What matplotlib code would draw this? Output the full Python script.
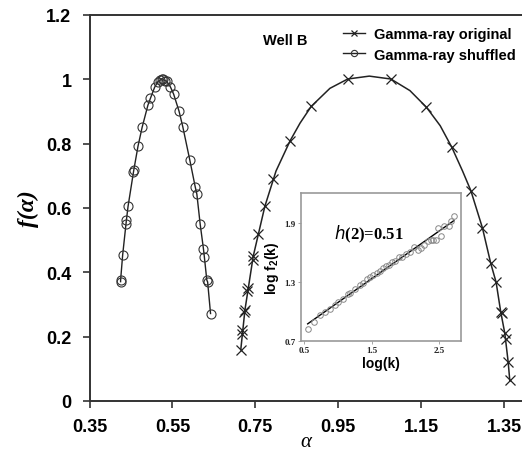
import numpy as np
import matplotlib
matplotlib.use('Agg')
import matplotlib.pyplot as plt

plt.rcParams['font.family'] = ['Liberation Sans', 'DejaVu Sans']
plt.rcParams['mathtext.default'] = 'regular'

# multifractal spectrum, shuffled series (open circles)
shuf_alpha = [0.425, 0.425, 0.430, 0.438, 0.439, 0.443, 0.456, 0.457, 0.467, 0.477,
              0.491, 0.497, 0.507, 0.515, 0.520, 0.525, 0.528, 0.532, 0.536, 0.545,
              0.553, 0.566, 0.575, 0.592, 0.605, 0.609, 0.617, 0.625, 0.627, 0.633,
              0.635, 0.642]
shuf_f = [0.371, 0.375, 0.454, 0.550, 0.562, 0.605, 0.711, 0.719, 0.792, 0.851,
          0.920, 0.941, 0.975, 0.993, 0.997, 1.002, 1.000, 0.996, 0.994, 0.977,
          0.954, 0.901, 0.853, 0.749, 0.666, 0.643, 0.550, 0.472, 0.449, 0.376,
          0.370, 0.272]

# original series, markers
orig_alpha = [0.715, 0.717, 0.718, 0.723, 0.725, 0.731, 0.732, 0.744, 0.745, 0.756,
              0.773, 0.793, 0.834, 0.885, 0.973, 1.077, 1.163, 1.224, 1.270, 1.298,
              1.318, 1.331, 1.342, 1.344, 1.352, 1.355, 1.360, 1.364]
orig_f = [0.160, 0.208, 0.221, 0.276, 0.283, 0.343, 0.350, 0.439, 0.450, 0.519,
          0.605, 0.690, 0.809, 0.916, 1.001, 1.001, 0.913, 0.789, 0.654, 0.538,
          0.428, 0.369, 0.278, 0.273, 0.210, 0.193, 0.122, 0.066]

# original series, fitted curve
curve_alpha = [0.715, 0.725, 0.745, 0.773, 0.800, 0.834, 0.858, 0.885, 0.930, 0.973,
               1.025, 1.077, 1.123, 1.163, 1.196, 1.224, 1.250, 1.270, 1.298, 1.318,
               1.331, 1.342, 1.352, 1.360, 1.364]
curve_f = [0.160, 0.283, 0.450, 0.605, 0.715, 0.809, 0.864, 0.916, 0.972, 1.001,
           1.010, 1.001, 0.965, 0.913, 0.856, 0.789, 0.715, 0.654, 0.538, 0.428,
           0.369, 0.278, 0.210, 0.122, 0.063]

# inset: fluctuation function
log_k = [0.549, 0.647, 0.732, 0.806, 0.880, 0.955, 1.004, 1.078, 1.152, 1.178,
         1.252, 1.326, 1.375, 1.426, 1.475, 1.524, 1.574, 1.623, 1.672, 1.708,
         1.757, 1.797, 1.846, 1.906, 1.955, 2.005, 2.069, 2.133, 2.183, 2.233,
         2.282, 2.332, 2.381, 2.416, 2.451, 2.480, 2.530, 2.579, 2.649, 2.678,
         2.723]
log_f2 = [0.818, 0.894, 0.966, 0.993, 1.026, 1.059, 1.092, 1.119, 1.174, 1.181,
          1.224, 1.267, 1.290, 1.323, 1.347, 1.366, 1.389, 1.412, 1.439, 1.455,
          1.472, 1.498, 1.511, 1.545, 1.554, 1.577, 1.597, 1.653, 1.620, 1.644,
          1.676, 1.709, 1.719, 1.719, 1.719, 1.842, 1.768, 1.861, 1.867, 1.917,
          1.966]
fit_x = [0.549, 2.720]
fit_y = [0.871, 1.920]

main_xticks = [0.35, 0.55, 0.75, 0.95, 1.15, 1.35]
main_yticks = [0, 0.2, 0.4, 0.6, 0.8, 1, 1.2]

fig = plt.figure(figsize=(5.22, 4.52), dpi=100)
ax = fig.add_axes([89.5 / 522, 50 / 452, 432.5 / 522, 386 / 452])

ax.plot(curve_alpha, curve_f, color='#222222', lw=1.1, zorder=2)
ax.plot(orig_alpha, orig_f, ls='none', marker='x', ms=7, mew=0.9,
        color='#222222', zorder=3)
ax.plot(shuf_alpha, shuf_f, color='#222222', lw=1.0, marker='o', ms=6.5,
        mfc='none', mec='#333333', mew=0.8, zorder=3)

# legend handles
ax.plot([], [], color='#222222', lw=1.0, marker='x', ms=4, mew=0.9,
        label='Gamma-ray original')
ax.plot([], [], color='#222222', lw=1.0, marker='o', ms=4.5, mfc='none',
        mec='#333333', mew=0.8, label='Gamma-ray shuffled')
handles, labels = ax.get_legend_handles_labels()
fig.legend(handles[-2:], labels[-2:], loc='upper left',
           bbox_to_anchor=(343 / 522, 1 - 28 / 452), frameon=False,
           borderpad=0, borderaxespad=0, handlelength=1.5, handletextpad=0.6,
           labelspacing=0.45, prop={'weight': 'bold', 'size': 10.5})

ax.text(0.822, 1.122, 'Well B', fontsize=10.5, fontweight='bold',
        ha='center', va='center')

ax.set_xlim(0.35, 0.35 + 432.5 / 414.5)
ax.set_ylim(0, 1.2)
ax.set_xticks(main_xticks)
ax.set_xticklabels(['%.2f' % v for v in main_xticks])
ax.set_yticks(main_yticks)
ax.set_yticklabels(['%g' % v for v in main_yticks])
ax.tick_params(direction='out', length=5, width=1.2, colors='#333333',
               labelcolor='black', labelsize=13)
ax.tick_params(axis='x', pad=7)
ax.tick_params(axis='y', pad=8)
for lab in ax.get_xticklabels() + ax.get_yticklabels():
    lab.set_fontweight('bold')
ax.spines['right'].set_visible(False)
for s in ['left', 'bottom', 'top']:
    ax.spines[s].set_linewidth(1.4)
    ax.spines[s].set_color('#333333')

ax.set_xlabel('α', family='Liberation Serif', style='italic', fontsize=15,
              labelpad=-2)
ax.set_ylabel('f(α)', family='Liberation Serif', style='italic',
              fontweight='bold', fontsize=17, labelpad=5)

# inset
ins = fig.add_axes([301 / 522, (452 - 341.7) / 452, 159.7 / 522, 147.7 / 452])
ins.plot(fit_x, fit_y, color='black', lw=1.0, zorder=2)
ins.plot(log_k, log_f2, ls='none', marker='o', ms=4, mfc='none',
         mec='#888888', mew=0.7, zorder=3)
ins.set_xlim(0.45, 2.82)
ins.set_ylim(0.72, 2.2)
ins.set_xticks([0.5, 1.5, 2.5])
ins.set_yticks([0.7, 1.3, 1.9])
ins.set_xticklabels(['0.5', '1.5', '2.5'])
ins.set_yticklabels(['0.7', '1.3', '1.9'])
ins.tick_params(direction='out', length=2, width=0.6, colors='#999999',
                labelcolor='#222222', labelsize=6.5, pad=2)
for lab in ins.get_xticklabels() + ins.get_yticklabels():
    lab.set_fontweight('bold')
    lab.set_family('Liberation Serif')
for s in ins.spines.values():
    s.set_color('#999999')
    s.set_linewidth(1.2)
ins.set_xlabel('log(k)', fontsize=10, fontweight='bold', labelpad=1)
ins.set_ylabel('log f$_2$(k)', fontsize=10, fontweight='bold', labelpad=2)
ins.text(1.45, 1.79, r'$\mathit{h}$(2)=0.51', family='Liberation Serif',
         fontsize=12, fontweight='bold', ha='center', va='center')

fig.savefig('out.png', dpi=100)
